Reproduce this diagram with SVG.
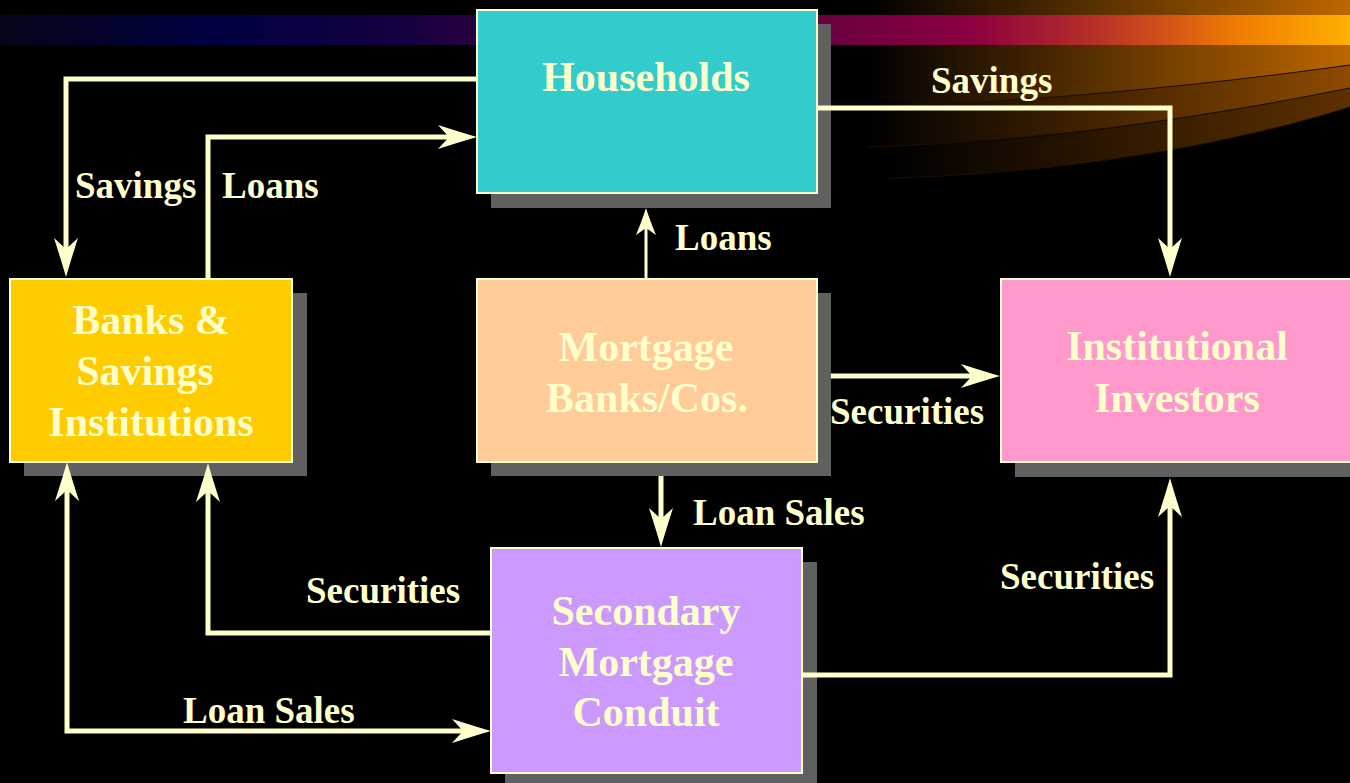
<svg xmlns="http://www.w3.org/2000/svg" width="1350" height="783" viewBox="0 0 1350 783">
  <style>
    .box { stroke: #ffffcc; stroke-width: 2; }
    .shadow { fill: #606060; }
    .nt { font-family: "Liberation Serif", "Times New Roman", serif; font-weight: bold; font-size: 42px; fill: #ffffcc; text-anchor: middle; }
    .lbl { font-family: "Liberation Serif", "Times New Roman", serif; font-weight: bold; font-size: 37px; fill: #ffffcc; }
    .wire { fill: none; stroke: #ffffcc; stroke-width: 5; stroke-linejoin: miter; }
    .wire-thin { fill: none; stroke: #ffffcc; stroke-width: 3; }
    .seam { fill: none; stroke: #1e0e00; stroke-width: 1; }
  </style>
  <defs>
    <linearGradient id="band" x1="0" y1="0" x2="1350" y2="0" gradientUnits="userSpaceOnUse">
      <stop offset="0" stop-color="#06061a"/>
      <stop offset="0.16" stop-color="#000042"/>
      <stop offset="0.3" stop-color="#160040"/>
      <stop offset="0.36" stop-color="#2a0040"/>
      <stop offset="0.61" stop-color="#6a0040"/>
      <stop offset="0.72" stop-color="#8c0040"/>
      <stop offset="0.8" stop-color="#b02a2a"/>
      <stop offset="0.86" stop-color="#d0501a"/>
      <stop offset="0.92" stop-color="#f07e00"/>
      <stop offset="1" stop-color="#ffb000"/>
    </linearGradient>
    <linearGradient id="sw1" x1="867" y1="0" x2="1350" y2="0" gradientUnits="userSpaceOnUse">
      <stop offset="0" stop-color="#000000"/>
      <stop offset="1" stop-color="#bc6600"/>
    </linearGradient>
    <linearGradient id="sw2" x1="867" y1="0" x2="1350" y2="0" gradientUnits="userSpaceOnUse">
      <stop offset="0" stop-color="#000000"/>
      <stop offset="1" stop-color="#8e4a00"/>
    </linearGradient>
    <linearGradient id="sw3" x1="890" y1="0" x2="1350" y2="0" gradientUnits="userSpaceOnUse">
      <stop offset="0" stop-color="#000000"/>
      <stop offset="1" stop-color="#5e3000"/>
    </linearGradient>
    <marker id="arrow" viewBox="-12 -14 42 28" markerWidth="42" markerHeight="28" refX="0" refY="0" orient="auto-start-reverse" markerUnits="userSpaceOnUse">
      <path d="M28,0 Q14,-4 -11,-12 L0,0 L-11,12 Q14,4 28,0 Z" fill="#ffffcc"/>
    </marker>
    <marker id="arrowThin" viewBox="-9 -11 31 22" markerWidth="31" markerHeight="22" refX="0" refY="0" orient="auto" markerUnits="userSpaceOnUse">
      <path d="M20,0 Q10,-3 -7,-10 L0,0 L-7,10 Q10,3 20,0 Z" fill="#ffffcc"/>
    </marker>
  </defs>

  <!-- backdrop -->
  <rect x="0" y="0" width="1350" height="783" fill="#000000"/>
  <g id="swoosh">
    <path d="M867,0 H1350 V65 C1200,86 1020,103 867,107 Z" fill="url(#sw1)"/>
    <path d="M867,107 C1020,103 1200,86 1350,65 V88 C1200,118 1040,142 867,147 Z" fill="url(#sw2)"/>
    <path d="M890,147 C1050,142 1210,116 1350,88 V107 C1230,145 1060,174 890,178 Z" fill="url(#sw3)"/>
    <path class="seam" d="M1350,65 C1200,86 1020,103 867,107"/>
    <path class="seam" d="M1350,88 C1200,118 1040,142 867,147"/>
    <path class="seam" d="M1350,107 C1230,145 1060,174 890,178"/>
  </g>
  <rect id="title-band" x="0" y="15" width="1350" height="30" fill="url(#band)"/>

  <!-- nodes -->
  <g id="households">
    <rect class="shadow" x="491" y="24" width="340" height="184"/>
    <rect class="box" x="477" y="10" width="340" height="183" fill="#33cccc"/>
    <text class="nt" x="646" y="91">Households</text>
  </g>
  <g id="banks">
    <rect class="shadow" x="24" y="293" width="283" height="183"/>
    <rect class="box" x="10" y="279" width="282" height="183" fill="#ffcc00"/>
    <text class="nt" x="151" y="334">Banks &amp;</text>
    <text class="nt" x="145" y="385">Savings</text>
    <text class="nt" x="151" y="436">Institutions</text>
  </g>
  <g id="mortgage-banks">
    <rect class="shadow" x="491" y="293" width="340" height="183"/>
    <rect class="box" x="477" y="279" width="340" height="183" fill="#ffcc99"/>
    <text class="nt" x="646" y="361">Mortgage</text>
    <text class="nt" x="647" y="412">Banks/Cos.</text>
  </g>
  <g id="institutional-investors">
    <rect class="shadow" x="1015" y="293" width="360" height="184"/>
    <rect class="box" x="1001" y="279" width="370" height="183" fill="#ff99cc"/>
    <text class="nt" x="1177" y="360">Institutional</text>
    <text class="nt" x="1177" y="412">Investors</text>
  </g>
  <g id="secondary-conduit">
    <rect class="shadow" x="505" y="562" width="312" height="230"/>
    <rect class="box" x="491" y="548" width="311" height="225" fill="#cc99ff"/>
    <text class="nt" x="646" y="625">Secondary</text>
    <text class="nt" x="646" y="676">Mortgage</text>
    <text class="nt" x="646" y="726">Conduit</text>
  </g>

  <!-- connectors -->
  <g id="connectors">
    <path class="wire" d="M477,79 H66 V249" marker-end="url(#arrow)"/>
    <path class="wire" d="M208,279 V137 H449" marker-end="url(#arrow)"/>
    <path class="wire-thin" d="M646,279 V228" marker-end="url(#arrowThin)"/>
    <path class="wire" d="M818,108 H1170 V249" marker-end="url(#arrow)"/>
    <path class="wire" d="M831,376 H972" marker-end="url(#arrow)"/>
    <path class="wire" d="M661,476 V519" marker-end="url(#arrow)"/>
    <path class="wire" d="M491,633 H208 V491" marker-end="url(#arrow)"/>
    <path class="wire" d="M67,490 V731 H463" marker-start="url(#arrow)" marker-end="url(#arrow)"/>
    <path class="wire" d="M803,675 H1170 V506" marker-end="url(#arrow)"/>
  </g>

  <!-- connector labels -->
  <g id="labels">
    <text class="lbl" x="75" y="198">Savings</text>
    <text class="lbl" x="222" y="198">Loans</text>
    <text class="lbl" x="931" y="93">Savings</text>
    <text class="lbl" x="675" y="250">Loans</text>
    <text class="lbl" x="830" y="424">Securities</text>
    <text class="lbl" x="693" y="525">Loan Sales</text>
    <text class="lbl" x="306" y="603">Securities</text>
    <text class="lbl" x="183" y="723">Loan Sales</text>
    <text class="lbl" x="1000" y="589">Securities</text>
  </g>
</svg>
